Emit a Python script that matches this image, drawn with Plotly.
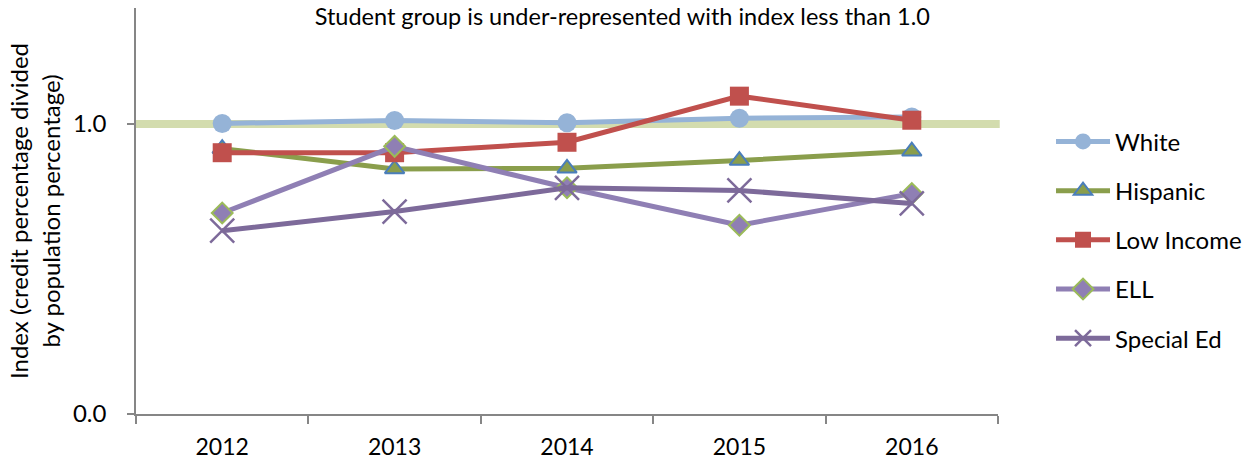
import plotly.graph_objects as go

years = ["2012", "2013", "2014", "2015", "2016"]
white = [1.002, 1.012, 1.004, 1.020, 1.024]
hispanic = [0.915, 0.845, 0.847, 0.874, 0.906]
low_income = [0.901, 0.901, 0.937, 1.096, 1.013]
ell = [0.693, 0.923, 0.780, 0.651, 0.760]
special_ed = [0.632, 0.698, 0.780, 0.771, 0.726]
threshold = 1.0

FONT = "Lato"
FS = 24

series = [
    ("White", white, "#95B3D7", dict(symbol="circle", size=19, color="#95B3D7", line=dict(width=0))),
    ("Hispanic", hispanic, "#8A9E4C", dict(symbol="triangle-up", size=17, color="#8A9E4C", line=dict(color="#4A7EBB", width=2))),
    ("Low Income", low_income, "#C0504D", dict(symbol="square", size=19, color="#C0504D", line=dict(width=0))),
    ("ELL", ell, "#8F7FB4", dict(symbol="diamond", size=16, color="#8F7FB4", line=dict(color="#9BBB59", width=2))),
    ("Special Ed", special_ed, "#7D6A9A", dict(symbol="x-thin", size=24, color="#7D6A9A", line=dict(color="#7D6A9A", width=2.5))),
]

fig = go.Figure()
for name, vals, col, mk in series:
    fig.add_trace(go.Scatter(
        x=years, y=vals, name=name, mode="lines+markers",
        line=dict(color=col, width=5), marker=mk, legendgroup=name,
    ))

fig.add_shape(type="line", xref="paper", x0=0, x1=1.002, yref="y", y0=threshold, y1=threshold,
              line=dict(color="#D3DCAE", width=8), layer="below")

fig.update_layout(
    width=1252, height=463,
    margin=dict(l=136, r=254, t=8, b=48.5, autoexpand=False),
    paper_bgcolor="white", plot_bgcolor="white",
    font=dict(family=FONT, size=FS, color="#000000"),
    title=dict(text="Student group is under-represented with index less than 1.0",
               x=0.497, xanchor="center", xref="container", y=1 - 16.5 / 463, yanchor="middle", yref="container",
               font=dict(family=FONT, size=23.5, color="#000000")),
    showlegend=True,
    legend=dict(x=1.0615, xanchor="left", y=0.429, yanchor="middle", tracegroupgap=15,
                itemwidth=54, font=dict(family=FONT, size=FS, color="#000000"),
                bgcolor="rgba(0,0,0,0)"),
    xaxis=dict(type="category", range=[-0.5, 4.5], tickson="boundaries", ticks="outside", ticklen=8,
               tickcolor="#868686", tickwidth=1.5, showline=True, linecolor="#868686", linewidth=1.5,
               showgrid=False, zeroline=False, ticklabelstandoff=12, automargin=False,
               tickfont=dict(family=FONT, size=23)),
    yaxis=dict(range=[0, 1.4], tickvals=[0.0, 1.0], ticktext=["0.0", "1.0"], ticks="outside", ticklen=7,
               tickcolor="#868686", tickwidth=1.5, showline=True, linecolor="#868686", linewidth=1.5,
               showgrid=False, zeroline=False, ticklabelstandoff=16, automargin=False,
               tickfont=dict(family=FONT, size=FS),
               title=dict(text="Index (credit percentage divided<br>by population percentage)",
                          font=dict(family=FONT, size=FS), standoff=6)),
)

fig.write_html("out.html", config={"displayModeBar": False},
               post_script="document.body.style.margin='0';")
